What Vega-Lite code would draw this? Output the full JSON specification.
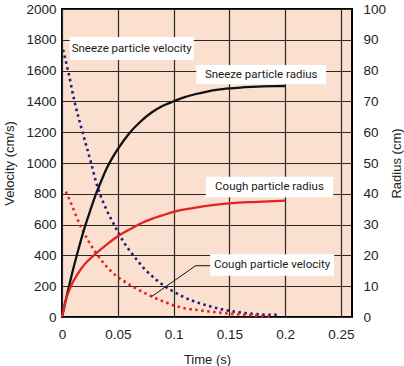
{
  "$schema": "https://vega.github.io/schema/vega-lite/v6.json",
  "width": 290,
  "height": 308,
  "autosize": {"type": "none"},
  "padding": {"left": 62, "top": 9, "right": 52, "bottom": 49},
  "background": "white",
  "config": {
    "view": {"fill": "#fbdfcf", "stroke": "black", "strokeWidth": 2},
    "font": "Liberation Sans",
    "axis": {
      "labelFont": "Liberation Sans", "labelFontSize": 13.5, "labelColor": "#222",
      "titleFont": "Liberation Sans", "titleFontSize": 13, "titleFontWeight": "normal", "titleColor": "#222",
      "ticks": false, "domain": false, "gridColor": "#2a2a2a", "gridWidth": 1.2, "gridOpacity": 1
    }
  },
  "datasets": {
    "vel": [
      {"series": "Sneeze", "t": 0.001, "v": 1735},
      {"series": "Sneeze", "t": 0.0054, "v": 1600},
      {"series": "Sneeze", "t": 0.0112, "v": 1400},
      {"series": "Sneeze", "t": 0.0184, "v": 1200},
      {"series": "Sneeze", "t": 0.0261, "v": 1000},
      {"series": "Sneeze", "t": 0.03, "v": 890},
      {"series": "Sneeze", "t": 0.034, "v": 800},
      {"series": "Sneeze", "t": 0.04, "v": 695},
      {"series": "Sneeze", "t": 0.047, "v": 595},
      {"series": "Sneeze", "t": 0.055, "v": 490},
      {"series": "Sneeze", "t": 0.064, "v": 400},
      {"series": "Sneeze", "t": 0.075, "v": 305},
      {"series": "Sneeze", "t": 0.084, "v": 245},
      {"series": "Sneeze", "t": 0.093, "v": 195},
      {"series": "Sneeze", "t": 0.1017, "v": 158},
      {"series": "Sneeze", "t": 0.1075, "v": 135},
      {"series": "Sneeze", "t": 0.119, "v": 100},
      {"series": "Sneeze", "t": 0.1304, "v": 74},
      {"series": "Sneeze", "t": 0.145, "v": 47},
      {"series": "Sneeze", "t": 0.159, "v": 30},
      {"series": "Sneeze", "t": 0.17, "v": 21},
      {"series": "Sneeze", "t": 0.179, "v": 16},
      {"series": "Sneeze", "t": 0.186, "v": 14},
      {"series": "Sneeze", "t": 0.194, "v": 15},
      {"series": "Cough", "t": 0.0034, "v": 814},
      {"series": "Cough", "t": 0.008, "v": 740},
      {"series": "Cough", "t": 0.016, "v": 600},
      {"series": "Cough", "t": 0.024, "v": 490},
      {"series": "Cough", "t": 0.032, "v": 400},
      {"series": "Cough", "t": 0.045, "v": 290},
      {"series": "Cough", "t": 0.063, "v": 200},
      {"series": "Cough", "t": 0.0816, "v": 130},
      {"series": "Cough", "t": 0.093, "v": 95},
      {"series": "Cough", "t": 0.1075, "v": 60},
      {"series": "Cough", "t": 0.1218, "v": 45},
      {"series": "Cough", "t": 0.136, "v": 32},
      {"series": "Cough", "t": 0.15, "v": 22},
      {"series": "Cough", "t": 0.165, "v": 13},
      {"series": "Cough", "t": 0.179, "v": 6},
      {"series": "Cough", "t": 0.188, "v": 2}
    ],
    "rad": [
      {"series": "Sneeze", "t": 0, "r": 0},
      {"series": "Sneeze", "t": 0.005, "r": 8},
      {"series": "Sneeze", "t": 0.01, "r": 15.5},
      {"series": "Sneeze", "t": 0.015, "r": 22.3},
      {"series": "Sneeze", "t": 0.02, "r": 28.7},
      {"series": "Sneeze", "t": 0.025, "r": 34.2},
      {"series": "Sneeze", "t": 0.03, "r": 39.5},
      {"series": "Sneeze", "t": 0.035, "r": 44},
      {"series": "Sneeze", "t": 0.04, "r": 48.2},
      {"series": "Sneeze", "t": 0.045, "r": 51.6},
      {"series": "Sneeze", "t": 0.05, "r": 54.5},
      {"series": "Sneeze", "t": 0.06, "r": 59.5},
      {"series": "Sneeze", "t": 0.07, "r": 63.3},
      {"series": "Sneeze", "t": 0.08, "r": 66.3},
      {"series": "Sneeze", "t": 0.09, "r": 68.5},
      {"series": "Sneeze", "t": 0.1, "r": 70},
      {"series": "Sneeze", "t": 0.11, "r": 71.4},
      {"series": "Sneeze", "t": 0.12, "r": 72.4},
      {"series": "Sneeze", "t": 0.13, "r": 73.2},
      {"series": "Sneeze", "t": 0.14, "r": 73.8},
      {"series": "Sneeze", "t": 0.15, "r": 74.2},
      {"series": "Sneeze", "t": 0.16, "r": 74.5},
      {"series": "Sneeze", "t": 0.17, "r": 74.7},
      {"series": "Sneeze", "t": 0.18, "r": 74.85},
      {"series": "Sneeze", "t": 0.19, "r": 74.95},
      {"series": "Sneeze", "t": 0.2, "r": 75},
      {"series": "Cough", "t": 0, "r": 0},
      {"series": "Cough", "t": 0.003, "r": 5},
      {"series": "Cough", "t": 0.008, "r": 10},
      {"series": "Cough", "t": 0.015, "r": 14.5},
      {"series": "Cough", "t": 0.02, "r": 17},
      {"series": "Cough", "t": 0.03, "r": 20.5},
      {"series": "Cough", "t": 0.04, "r": 23.5},
      {"series": "Cough", "t": 0.05, "r": 26.2},
      {"series": "Cough", "t": 0.06, "r": 28.3},
      {"series": "Cough", "t": 0.072, "r": 30.6},
      {"series": "Cough", "t": 0.08, "r": 31.8},
      {"series": "Cough", "t": 0.09, "r": 33},
      {"series": "Cough", "t": 0.1017, "r": 34.3},
      {"series": "Cough", "t": 0.12, "r": 35.5},
      {"series": "Cough", "t": 0.135, "r": 36.3},
      {"series": "Cough", "t": 0.15, "r": 36.9},
      {"series": "Cough", "t": 0.175, "r": 37.4},
      {"series": "Cough", "t": 0.2, "r": 37.8}
    ],
    "boxes": [
      {"t": 0.0069, "t2": 0.1181, "v": 1669, "v2": 1818},
      {"t": 0.1204, "t2": 0.2368, "v": 1511, "v2": 1636},
      {"t": 0.129, "t2": 0.2431, "v": 777, "v2": 911},
      {"t": 0.1328, "t2": 0.244, "v": 268, "v2": 407}
    ],
    "labels": [
      {"label": "Sneeze particle velocity", "t": 0.0625, "v": 1743},
      {"label": "Sneeze particle radius", "t": 0.1786, "v": 1573},
      {"label": "Cough particle radius", "t": 0.186, "v": 844},
      {"label": "Cough particle velocity", "t": 0.1884, "v": 337}
    ],
    "leader": [
      {"o": 1, "t": 0.0802, "v": 132},
      {"o": 2, "t": 0.1198, "v": 333},
      {"o": 3, "t": 0.1328, "v": 333}
    ]
  },
  "layer": [
    {
      "encoding": {
        "x": {"field": "t", "type": "quantitative", "scale": {"domain": [0, 0.25]},
              "axis": {"title": "Time (s)", "values": [0, 0.05, 0.1, 0.15, 0.2, 0.25], "format": "~g", "labelPadding": 10, "titlePadding": 13, "grid": true, "labelFlush": false}},
        "y": {"field": "v", "type": "quantitative", "scale": {"domain": [0, 2000]},
              "axis": {"title": "Velocity (cm/s)", "values": [0, 200, 400, 600, 800, 1000, 1200, 1400, 1600, 1800, 2000], "format": "d", "labelPadding": 6, "titlePadding": 9, "grid": true, "labelFlush": false}}
      },
      "layer": [
        {
          "data": {"name": "vel"},
          "mark": {"type": "line", "strokeWidth": 2.6, "strokeDash": [2.5, 3.5], "strokeCap": "butt", "interpolate": "monotone"},
          "encoding": {
            "color": {"field": "series", "type": "nominal", "scale": {"domain": ["Sneeze", "Cough"], "range": ["#1c1f7e", "#e2231f"]}, "legend": null}
          }
        },
        {
          "data": {"name": "boxes"},
          "mark": {"type": "rect", "fill": "#ffffff", "fillOpacity": 1, "strokeWidth": 0},
          "encoding": {
            "x2": {"field": "t2"},
            "y2": {"field": "v2"}
          }
        },
        {
          "data": {"name": "labels"},
          "mark": {"type": "text", "font": "Roboto", "fontSize": 11.5, "color": "#1a1a1a", "align": "center", "baseline": "middle"},
          "encoding": {
            "text": {"field": "label"}
          }
        },
        {
          "data": {"name": "leader"},
          "mark": {"type": "line", "color": "#111", "strokeWidth": 1},
          "encoding": {
            "order": {"field": "o"}
          }
        }
      ]
    },
    {
      "data": {"name": "rad"},
      "mark": {"type": "line", "strokeWidth": 2.3, "interpolate": "monotone"},
      "encoding": {
        "x": {"field": "t", "type": "quantitative"},
        "y": {"field": "r", "type": "quantitative", "scale": {"domain": [0, 100]},
              "axis": {"orient": "right", "title": "Radius (cm)", "titleAngle": -90, "titleBaseline": "top", "values": [0, 10, 20, 30, 40, 50, 60, 70, 80, 90, 100], "labelPadding": 11, "titlePadding": 5, "grid": false, "labelFlush": false}},
        "color": {"field": "series", "type": "nominal", "scale": {"domain": ["Sneeze", "Cough"], "range": ["#111111", "#e2231f"]}, "legend": null}
      }
    }
  ],
  "resolve": {"scale": {"y": "independent", "color": "independent"}}
}
